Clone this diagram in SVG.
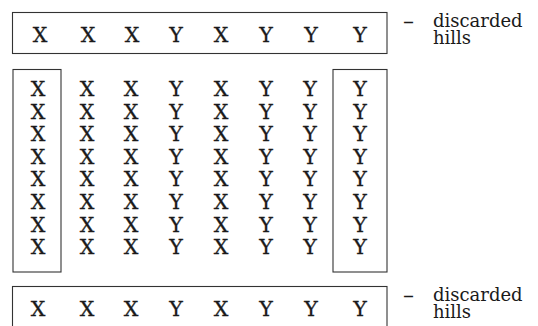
<svg xmlns="http://www.w3.org/2000/svg" width="538" height="326" viewBox="0 0 538 326">
<style>
.box{fill:none;stroke:#333;stroke-width:1.1}
.t{font-family:"DejaVu Serif","Liberation Serif",serif;font-size:20.5px;fill:#1a1a1a;stroke:#1a1a1a;stroke-width:0.3;text-anchor:middle}
.lab{font-family:"DejaVu Serif","Liberation Serif",serif;font-size:18px;fill:#1a1a1a}
.dash{font-family:"DejaVu Serif","Liberation Serif",serif;font-size:22px;fill:#1a1a1a}
</style>
<rect width="538" height="326" fill="#fff"/>
<g id="top-row">
<rect class="box" x="12.5" y="12.5" width="374.5" height="41"/>
<text class="t" y="42"><tspan x="40">X</tspan><tspan x="88">X</tspan><tspan x="132">X</tspan><tspan x="176">Y</tspan><tspan x="221">X</tspan><tspan x="266">Y</tspan><tspan x="311">Y</tspan><tspan x="360">Y</tspan></text>
</g>
<g id="top-label">
<text class="dash" x="403" y="28.5">–</text>
<text class="lab" x="433" y="26.5">discarded</text>
<text class="lab" x="433" y="43.5">hills</text>
</g>
<g id="left-column">
<rect class="box" x="13" y="69.5" width="48" height="202.5"/>
</g>
<g id="right-column">
<rect class="box" x="333" y="69.5" width="54" height="202.5"/>
</g>
<g id="grid">
<text class="t" y="96"><tspan x="38">X</tspan><tspan x="87">X</tspan><tspan x="131">X</tspan><tspan x="176">Y</tspan><tspan x="221">X</tspan><tspan x="266">Y</tspan><tspan x="310">Y</tspan><tspan x="360">Y</tspan></text>
<text class="t" y="118.6"><tspan x="38">X</tspan><tspan x="87">X</tspan><tspan x="131">X</tspan><tspan x="176">Y</tspan><tspan x="221">X</tspan><tspan x="266">Y</tspan><tspan x="310">Y</tspan><tspan x="360">Y</tspan></text>
<text class="t" y="141.2"><tspan x="38">X</tspan><tspan x="87">X</tspan><tspan x="131">X</tspan><tspan x="176">Y</tspan><tspan x="221">X</tspan><tspan x="266">Y</tspan><tspan x="310">Y</tspan><tspan x="360">Y</tspan></text>
<text class="t" y="163.8"><tspan x="38">X</tspan><tspan x="87">X</tspan><tspan x="131">X</tspan><tspan x="176">Y</tspan><tspan x="221">X</tspan><tspan x="266">Y</tspan><tspan x="310">Y</tspan><tspan x="360">Y</tspan></text>
<text class="t" y="186.4"><tspan x="38">X</tspan><tspan x="87">X</tspan><tspan x="131">X</tspan><tspan x="176">Y</tspan><tspan x="221">X</tspan><tspan x="266">Y</tspan><tspan x="310">Y</tspan><tspan x="360">Y</tspan></text>
<text class="t" y="209"><tspan x="38">X</tspan><tspan x="87">X</tspan><tspan x="131">X</tspan><tspan x="176">Y</tspan><tspan x="221">X</tspan><tspan x="266">Y</tspan><tspan x="310">Y</tspan><tspan x="360">Y</tspan></text>
<text class="t" y="231.6"><tspan x="38">X</tspan><tspan x="87">X</tspan><tspan x="131">X</tspan><tspan x="176">Y</tspan><tspan x="221">X</tspan><tspan x="266">Y</tspan><tspan x="310">Y</tspan><tspan x="360">Y</tspan></text>
<text class="t" y="254.2"><tspan x="38">X</tspan><tspan x="87">X</tspan><tspan x="131">X</tspan><tspan x="176">Y</tspan><tspan x="221">X</tspan><tspan x="266">Y</tspan><tspan x="310">Y</tspan><tspan x="360">Y</tspan></text>
</g>
<g id="bottom-row">
<rect class="box" x="12.5" y="286.5" width="374.5" height="41"/>
<text class="t" y="316"><tspan x="38">X</tspan><tspan x="87">X</tspan><tspan x="131">X</tspan><tspan x="176">Y</tspan><tspan x="221">X</tspan><tspan x="266">Y</tspan><tspan x="311">Y</tspan><tspan x="360">Y</tspan></text>
</g>
<g id="bottom-label">
<text class="dash" x="403" y="302.5">–</text>
<text class="lab" x="433" y="300.5">discarded</text>
<text class="lab" x="433" y="317.5">hills</text>
</g>
<g id="connectors"></g>
</svg>
